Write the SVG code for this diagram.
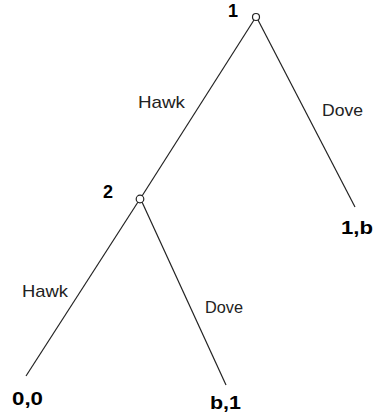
<svg xmlns="http://www.w3.org/2000/svg" width="377" height="419" viewBox="0 0 377 419">
<style>
.edge{stroke:#222;stroke-width:1.2;fill:none}
.node{fill:#fff;stroke:#222;stroke-width:1.2}
.lbl{font-family:"Liberation Sans",Arial,sans-serif;font-size:17px;fill:#222}
.b{font-family:"Liberation Sans",Arial,sans-serif;font-size:18px;font-weight:bold;fill:#000}
</style>
<rect width="377" height="419" fill="#fff"/>
<g id="connectors">
<line class="edge" x1="254" y1="20" x2="142" y2="196"/>
<line class="edge" x1="258" y1="20" x2="355" y2="207"/>
<line class="edge" x1="138" y1="202" x2="26" y2="376"/>
<line class="edge" x1="142" y1="202" x2="226" y2="385"/>
</g>
<g id="node1">
<circle class="node" cx="256" cy="17" r="3.5"/>
<text class="b" x="228" y="17">1</text>
</g>
<g id="node2">
<circle class="node" cx="140" cy="199" r="3.8"/>
<text class="b" x="103" y="198">2</text>
</g>
<g id="labels">
<text class="lbl" x="138" y="108" textLength="47" lengthAdjust="spacingAndGlyphs">Hawk</text>
<text class="lbl" x="322" y="116" textLength="41" lengthAdjust="spacingAndGlyphs">Dove</text>
<text class="lbl" x="22" y="297" textLength="46" lengthAdjust="spacingAndGlyphs">Hawk</text>
<text class="lbl" x="205" y="313" textLength="38" lengthAdjust="spacingAndGlyphs">Dove</text>
</g>
<g id="leaf1b"><text class="b" x="341" y="234" textLength="32" lengthAdjust="spacingAndGlyphs">1,b</text></g>
<g id="leaf00"><text class="b" x="12" y="405" textLength="31" lengthAdjust="spacingAndGlyphs">0,0</text></g>
<g id="leafb1"><text class="b" x="210" y="409" textLength="31" lengthAdjust="spacingAndGlyphs">b,1</text></g>
</svg>
